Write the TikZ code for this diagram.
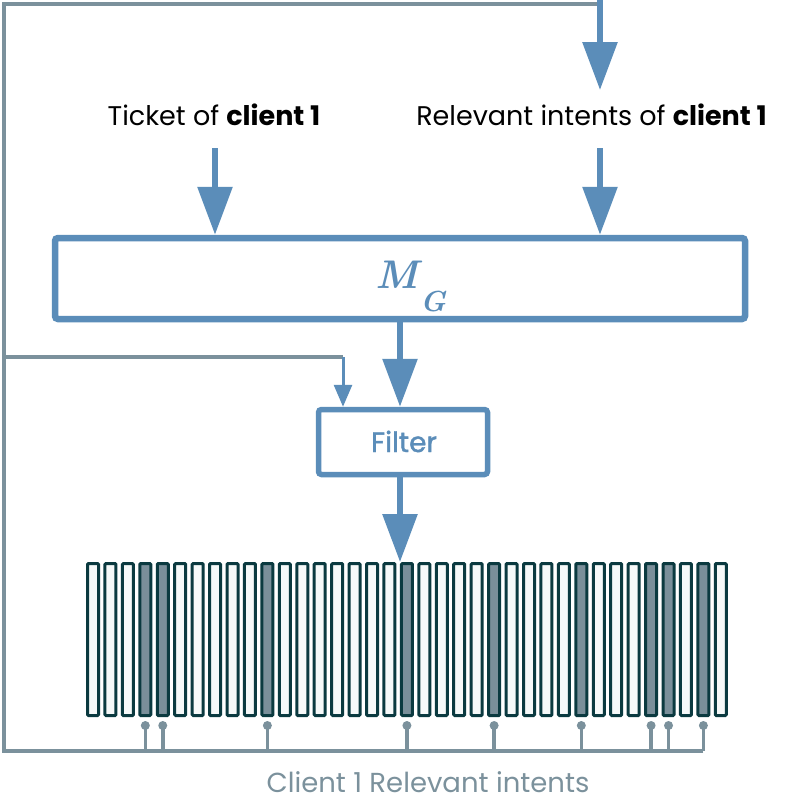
\documentclass[tikz,border=0pt]{standalone}
\usepackage{fontspec}
\setmainfont{Poppins}
\newfontfamily\filterfont[FakeBold=1.4]{Poppins}
\newfontfamily\mgfont{Latin Modern Roman}
\usetikzlibrary{arrows.meta}
\definecolor{cblue}{HTML}{5B8DB9}
\definecolor{cgray}{HTML}{7B919C}
\definecolor{cteal}{HTML}{0B3A40}
\definecolor{cshade}{HTML}{7A8F9A}
\definecolor{cwhite}{HTML}{F6F9F9}
\begin{document}
\begin{tikzpicture}[x=1pt,y=-1pt,
  bigarrow/.style={draw=cblue,line width=6pt,-{Triangle[width=34pt,length=48pt]},fill=cblue},
  smallarrow/.style={draw=cblue,line width=3pt,-{Triangle[width=18pt,length=22pt]}},
  grayline/.style={draw=cgray,line width=3.5pt},
  bluebox/.style={draw=cblue,rounded corners=3pt,fill=white,inner sep=0pt},
  bar/.style={draw=cteal,line width=3pt,minimum width=11pt,minimum height=152pt,inner sep=0pt,rounded corners=1pt},
  lbl/.style={font=\fontsize{27}{31}\selectfont,inner sep=0pt,anchor=base},
]
\useasboundingbox (0,0) rectangle (790,812);

% text labels
\node[lbl] (ticket) at (214,125) {Ticket of \textbf{client 1}};
\node[lbl] (rel) at (591.5,125) {Relevant intents of \textbf{client 1}};

% boxes
\node[bluebox,line width=6.5pt,minimum width=690pt,minimum height=81pt] (mg) at (400,278.5) {};
\node[inner sep=0pt,anchor=base west,text=cblue,font=\mgfont\bfseries\itshape\fontsize{40}{46}\selectfont] (mgtext) at (375,288)
  {M\kern2pt\raisebox{-23pt}{\fontsize{29}{34}\selectfont G}};
\node[bluebox,line width=5.5pt,minimum width=169pt,minimum height=65pt] (filter) at (403,442) {};
\node[lbl,text=cblue,font=\fontsize{28}{32}\selectfont] (filtertext) at (404,452) {\filterfont Filter};

% bars
\foreach \i/\f in {0/cwhite,1/cwhite,2/cwhite,3/cshade,4/cshade,5/cwhite,6/cwhite,7/cwhite,8/cwhite,9/cwhite,
  10/cshade,11/cwhite,12/cwhite,13/cwhite,14/cwhite,15/cwhite,16/cwhite,17/cwhite,18/cshade,19/cwhite,
  20/cwhite,21/cwhite,22/cwhite,23/cshade,24/cwhite,25/cwhite,26/cwhite,27/cwhite,28/cshade,29/cwhite,
  30/cwhite,31/cwhite,32/cshade,33/cshade,34/cwhite,35/cshade,36/cwhite}
  {\node[bar,fill=\f] (b\i) at ({93+17.44*\i},639.5) {};}

% coordinates
\coordinate (topin) at (600,0);
\coordinate (topend) at (600,90);
\coordinate (tl) at (4,4);
\coordinate (bl) at (4,751);
\coordinate (fb) at (4,357);
\coordinate (fbc) at (343,357);
\coordinate (tk) at (215,148);
\coordinate (rk) at (600,148);

% gray loop
\draw[grayline] (b35.south |- bl) -- (bl) -- (tl) -- (tl -| topin);
\draw[grayline] (fb) -- (fbc);
\foreach \i in {3,4,10,18,23,28,32,33,35} {
  \draw[grayline] ([yshift=-8.5pt]b\i.south) -- (b\i.south |- bl);
  \fill[cgray] ([yshift=-8.5pt]b\i.south) circle (4.5pt);
}

% arrows
\draw[bigarrow] (topin) -- (topend);
\draw[bigarrow] (tk) -- (tk |- mg.north);
\draw[bigarrow] (rk) -- (rk |- mg.north);
\draw[bigarrow] (mg.south) -- (mg.south |- filter.north);
\draw[bigarrow] (filter.south -| mg.south) -- (mg.south |- b18.north);
\draw[smallarrow] (fbc) -- (fbc |- filter.north);

% output label
\node[lbl,text=cgray,font=\fontsize{27.5}{32}\selectfont] (out) at (428,792) {Client 1 Relevant intents};
\end{tikzpicture}
\end{document}
